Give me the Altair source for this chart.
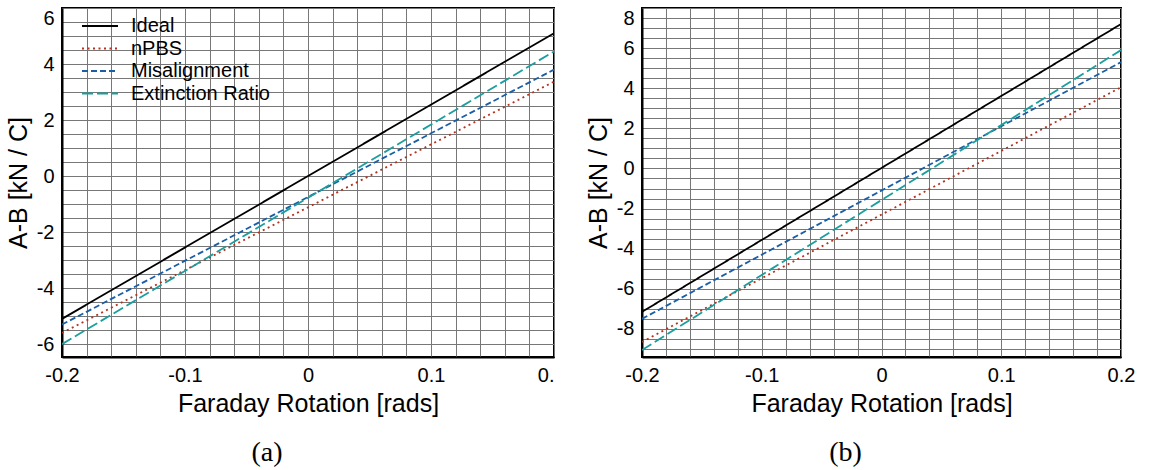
import altair as alt
import pandas as pd

# ---------------- data ----------------
faraday = [-0.2, 0.2]
series_names = ["Ideal", "nPBS", "Misalignment", "Extinction Ratio"]

# panel (a)
a_ideal = [-5.1, 5.1]
a_npbs = [-5.6, 3.37]
a_mis = [-5.3, 3.8]
a_ext = [-6.0, 4.45]

# panel (b)
b_ideal = [-7.15, 7.2]
b_npbs = [-8.65, 4.05]
b_mis = [-7.5, 5.3]
b_ext = [-9.05, 5.9]

colors = ["#000000", "#b5321f", "#1a5ea6", "#1a9e9e"]
dashes = [[1, 0], [2, 3.5], [6, 3], [11, 4]]

x_grid = [round(-0.2 + 0.02 * i, 2) for i in range(21)]


def long_df(values_list):
    rows = []
    for name, vals in zip(series_names, values_list):
        for x, y in zip(faraday, vals):
            rows.append({"rot": x, "ab": y, "series": name})
    return pd.DataFrame(rows)


def panel(values_list, ydom, ygrid, width, letter, truncate_last, title_dx):
    df = long_df(values_list)
    xlab = ("abs(datum.value) < 1e-9 ? '0' : "
            "(abs(datum.value*10 - round(datum.value*10)) < 1e-6 ? "
            "(datum.value < 0 ? '-' : '') + format(abs(datum.value), '.1f') : '')")
    if truncate_last:
        xlab = "datum.value > 0.19 ? '0.' : (" + xlab + ")"
        label_align = {"condition": {"test": "datum.value > 0.19", "value": "right"},
                       "value": "center"}
    else:
        label_align = "center"
    ylab = ("abs(datum.value % 2) < 1e-9 ? "
            "(datum.value < 0 ? '-' : '') + format(abs(datum.value), 'd') : ''")
    x_axis = alt.Axis(values=x_grid, labelExpr=xlab, labelAlign=label_align,
                      labelFlush=False, labelOverlap=False, labelPadding=8,
                      titlePadding=6, title="Faraday Rotation [rads]")
    y_axis = alt.Axis(values=ygrid, labelExpr=ylab, labelFlush=True,
                      labelOverlap=False, labelPadding=8, titlePadding=5,
                      title="A-B [kN / C]")
    chart = alt.Chart(df).mark_line(strokeWidth=1.8, strokeCap="butt", clip=True).encode(
        x=alt.X("rot:Q", scale=alt.Scale(domain=[-0.2, 0.2], nice=False, zero=False), axis=x_axis),
        y=alt.Y("ab:Q", scale=alt.Scale(domain=ydom, nice=False, zero=False), axis=y_axis),
        color=alt.Color("series:N", scale=alt.Scale(domain=series_names, range=colors),
                        legend=alt.Legend(title=None)),
        strokeDash=alt.StrokeDash("series:N", scale=alt.Scale(domain=series_names, range=dashes),
                                  legend=alt.Legend(title=None)),
    ).properties(
        width=width, height=349,
        title=alt.TitleParams(letter, orient="bottom", font="Liberation Serif", fontSize=28,
                              fontWeight="normal", anchor="middle", offset=23, dx=title_dx,
                              color="black"),
    )
    return chart


ygrid_a = [round(-6.0 + 0.5 * i, 1) for i in range(25)]
ygrid_b = [round(-9.0 + 0.5 * i, 1) for i in range(35)]

left = panel([a_ideal, a_npbs, a_mis, a_ext], [-6.46, 6.0], ygrid_a, 492, "(a)", True, -41)
right = panel([b_ideal, b_npbs, b_mis, b_ext], [-9.4, 8.0], ygrid_b, 479, "(b)", False, -36)

chart = alt.hconcat(left, right, spacing=30).properties(
    padding={"left": 5, "top": 7, "right": 5, "bottom": 0}
).configure_view(
    stroke="black", strokeWidth=2
).configure_axis(
    labelFont="Liberation Sans", labelFontSize=20, labelColor="black",
    titleFont="Liberation Sans", titleFontSize=25, titleFontWeight="normal", titleColor="black",
    gridColor="#777777", gridWidth=1, gridOpacity=1,
    ticks=False, domainColor="black", domainWidth=2,
).configure_legend(
    orient="none", legendX=28, legendY=8, padding=0,
    symbolType="M-3.6,0H3.6", symbolSize=100, symbolStrokeWidth=2,
    labelFont="Liberation Sans", labelFontSize=20, labelColor="black",
    labelOffset=21, rowPadding=2.5, fillColor="transparent", strokeColor="transparent",
)

chart.save("out.html", embed_options={"renderer": "svg", "actions": False})
